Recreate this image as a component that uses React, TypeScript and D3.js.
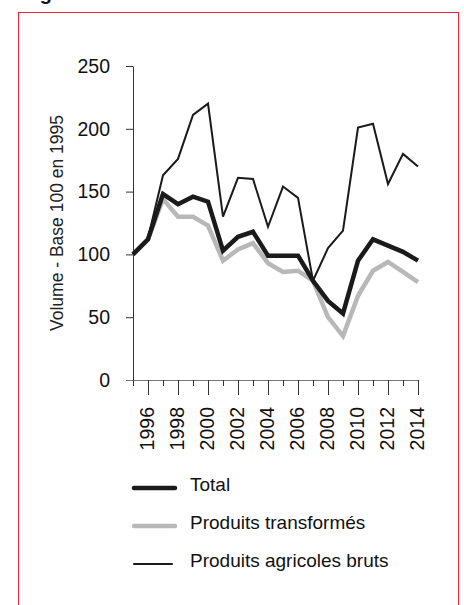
import { useEffect, useRef } from 'react'
import * as d3 from 'd3'

const years = [1995, 1996, 1997, 1998, 1999, 2000, 2001, 2002, 2003, 2004, 2005, 2006, 2007, 2008, 2009, 2010, 2011, 2012, 2013, 2014]
const total = [100, 112, 148, 140, 146, 142, 103, 114, 118, 99, 99, 99, 79, 63, 53, 95, 112, 107, 102, 95]
const transformes = [100, 112, 144, 130, 130, 123, 95, 104, 109, 93, 86, 87, 79, 50, 35, 67, 87, 94, 86, 78]
const agricoles = [100, 113, 163, 176, 211, 220, 130, 161, 160, 122, 154, 145, 79, 105, 119, 201, 204, 156, 180, 170]
const yTicks = [0, 50, 100, 150, 200, 250]
const seriesNames = ['Total', 'Produits transformés', 'Produits agricoles bruts']
const yLabel = 'Volume - Base 100 en 1995'

export default function App() {
  const ref = useRef<SVGSVGElement>(null)

  useEffect(() => {
    const svg = d3.select(ref.current)
    svg.selectAll('*').remove()

    const font = "'Liberation Sans', Arial, sans-serif"
    const x = d3.scaleLinear().domain([1995, 2014]).range([133, 418])
    const y = d3.scaleLinear().domain([0, 250]).range([380, 66])

    // frame + cut-off title
    svg.append('text')
      .attr('x', 22).attr('y', 0)
      .attr('font-family', font).attr('font-weight', 'bold').attr('font-size', 20)
      .attr('fill', '#111')
      .text('Figure')
    svg.append('rect')
      .attr('x', 18.5).attr('y', 12.5).attr('width', 440).attr('height', 700)
      .attr('fill', 'none').attr('stroke', '#e5243f').attr('stroke-width', 1)

    // y axis
    const gy = svg.append('g')
      .attr('transform', 'translate(133,0)')
      .call(d3.axisLeft(y).tickValues(yTicks).tickSize(7).tickSizeOuter(0).tickPadding(16))
    gy.select('.domain').attr('stroke', '#333')
    gy.selectAll('.tick line').attr('stroke', '#333')
    gy.selectAll('.tick text')
      .attr('font-family', font).attr('font-size', 19.5).attr('fill', '#111')

    svg.append('text')
      .attr('transform', 'translate(63,223) rotate(-90)')
      .attr('text-anchor', 'middle')
      .attr('font-family', font).attr('font-size', 17.5).attr('fill', '#222')
      .text(yLabel)

    // x axis
    svg.append('line')
      .attr('x1', 126.5).attr('x2', x(2014)).attr('y1', 380.5).attr('y2', 380.5)
      .attr('stroke', '#777')
    const gx = svg.append('g')
    gx.selectAll('line')
      .data(years)
      .enter()
      .append('line')
      .attr('x1', d => x(d) + 0.5).attr('x2', d => x(d) + 0.5)
      .attr('y1', 380).attr('y2', d => (d % 2 === 0 ? 395 : 386))
      .attr('stroke', '#333')
    gx.selectAll('text')
      .data(years.filter(d => d % 2 === 0))
      .enter()
      .append('text')
      .attr('transform', d => `translate(${x(d)},407) rotate(-90)`)
      .attr('text-anchor', 'end')
      .attr('dy', '0.3em')
      .attr('font-family', font).attr('font-size', 19.5).attr('fill', '#111')
      .text(d => d)

    // lines
    const line = d3.line<number>()
      .x((_, i) => x(years[i]))
      .y(d => y(d))
    const series = [
      { values: transformes, color: '#b8b8b8', width: 4.5 },
      { values: total, color: '#1a1a1a', width: 4.5 },
      { values: agricoles, color: '#1a1a1a', width: 2 },
    ]
    svg.selectAll('path.series')
      .data(series)
      .enter()
      .append('path')
      .attr('class', 'series')
      .attr('d', d => line(d.values))
      .attr('fill', 'none')
      .attr('stroke', d => d.color)
      .attr('stroke-width', d => d.width)
      .attr('stroke-linejoin', 'miter')

    // legend
    const legendItems = [
      { name: seriesNames[0], color: '#1a1a1a', width: 4.5, y: 488, x2: 175 },
      { name: seriesNames[1], color: '#b8b8b8', width: 4.5, y: 526, x2: 175 },
      { name: seriesNames[2], color: '#1a1a1a', width: 2, y: 564, x2: 172 },
    ]
    const lg = svg.append('g')
    lg.selectAll('line')
      .data(legendItems)
      .enter()
      .append('line')
      .attr('x1', 134).attr('x2', d => d.x2)
      .attr('y1', d => d.y).attr('y2', d => d.y)
      .attr('stroke', d => d.color).attr('stroke-width', d => d.width)
      .attr('stroke-linecap', 'round')
    lg.selectAll('text')
      .data(legendItems)
      .enter()
      .append('text')
      .attr('x', 190).attr('y', d => d.y + 3)
      .attr('font-family', font).attr('font-size', 19).attr('fill', '#111')
      .text(d => d.name)
  }, [])

  return (
    <svg
      ref={ref}
      width={464}
      height={605}
      style={{ position: 'absolute', left: 0, top: 0, background: '#fff' }}
    />
  )
}
